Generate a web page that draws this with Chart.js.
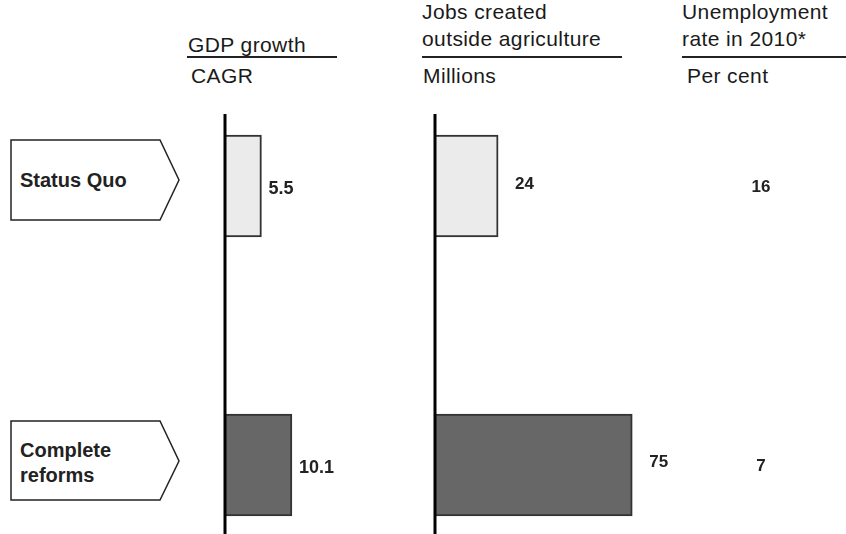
<!DOCTYPE html>
<html>
<head>
<meta charset="utf-8">
<script src="https://cdn.jsdelivr.net/npm/chart.js@4"></script>
<style>
  html, body { margin: 0; padding: 0; background: #fff; }
  body { width: 846px; height: 534px; position: relative; overflow: hidden;
         font-family: "Liberation Sans", Arial, sans-serif; color: #1a1a1a; }
  .hd { position: absolute; font-size: 21px; line-height: 27px; letter-spacing: 0.4px; white-space: nowrap; }
  .rule { position: absolute; height: 0; border-top: 2px solid #222; }
  canvas { position: absolute; }
  svg { position: absolute; left: 0; top: 0; }
</style>
</head>
<body>

<div class="hd" style="left:188px; top:31px;">GDP growth</div>
<div class="rule" style="left:187px; top:56px; width:150px;"></div>
<div class="hd" style="left:191px; top:62px;">CAGR</div>

<div class="hd" style="left:422px; top:-2px;">Jobs created</div>
<div class="hd" style="left:422px; top:25px;">outside agriculture</div>
<div class="rule" style="left:422px; top:56px; width:200px;"></div>
<div class="hd" style="left:423px; top:62px;">Millions</div>

<div class="hd" style="left:682px; top:-2px;">Unemployment</div>
<div class="hd" style="left:682px; top:25px;">rate in 2010*</div>
<div class="rule" style="left:682px; top:56px; width:164px;"></div>
<div class="hd" style="left:687px; top:62px;">Per cent</div>

<svg width="200" height="534">
  <polygon points="11,140 160,140 179,180 160,220 11,220" fill="#fff" stroke="#222" stroke-width="1.5"/>
  <text x="20" y="187" font-family="Liberation Sans, Arial" font-weight="bold" font-size="20" fill="#222">Status Quo</text>
  <polygon points="11,421 160,421 179,461 160,500 11,500" fill="#fff" stroke="#222" stroke-width="1.5"/>
  <text x="20" y="457" font-family="Liberation Sans, Arial" font-weight="bold" font-size="20" fill="#222">Complete</text>
  <text x="20" y="482" font-family="Liberation Sans, Arial" font-weight="bold" font-size="20" fill="#222">reforms</text>
</svg>

<canvas id="chartGdp" width="130" height="420" style="left:210px; top:114px; width:130px; height:420px;"></canvas>
<canvas id="chartJobs" width="426" height="420" style="left:420px; top:114px; width:426px; height:420px;"></canvas>

<script>
// scenarios and values
const scenarios = ['Status Quo', 'Complete reforms'];
const gdpGrowth = [5.5, 10.1];       // CAGR, %
const jobsCreated = [24, 75];        // millions
const unemployment = [16, 7];        // per cent, 2010
const barColours = ['#ebebeb', '#676767'];

// vertical axis line at zero + value labels
const decorPlugin = {
    id: 'decor',
    afterDatasetsDraw(chart, args, opts) {
        const ctx = chart.ctx;
        const xs = chart.scales.x;
        const ys = chart.scales.y;
        const x0 = xs.getPixelForValue(0);
        ctx.save();
        ctx.strokeStyle = '#000';
        ctx.lineWidth = 3;
        ctx.beginPath();
        ctx.moveTo(x0, 0);
        ctx.lineTo(x0, chart.height);
        ctx.stroke();

        ctx.fillStyle = '#222';
        ctx.textBaseline = 'middle';
        ctx.font = 'bold ' + opts.size + 'px "Liberation Sans", Arial, sans-serif';
        const data = chart.data.datasets[0].data;
        data.forEach((v, i) => {
            const y = ys.getPixelForValue(i);
            ctx.textAlign = 'left';
            ctx.fillText(opts.fmt(v), xs.getPixelForValue(v) + opts.gap, y + opts.dy[i]);
        });
        if (opts.extra) {
            ctx.textAlign = 'center';
            opts.extra.forEach((v, i) => {
                ctx.fillText(String(v), chart.chartArea.right + 63, ys.getPixelForValue(i) + 1);
            });
        }
        ctx.restore();
    }
};

function makeChart(id, values, max, pad, labelOpts) {
    return new Chart(document.getElementById(id), {
        type: 'bar',
        data: {
            labels: scenarios,
            datasets: [{
                data: values,
                backgroundColor: barColours,
                borderColor: '#333',
                borderWidth: 2,
                borderSkipped: 'start',
                barThickness: 102,
                clip: false
            }]
        },
        options: {
            indexAxis: 'y',
            responsive: false,
            animation: false,
            events: [],
            layout: { padding: pad },
            scales: {
                x: { display: false, min: 0, max: max },
                y: { display: false, offset: false }
            },
            plugins: {
                legend: { display: false },
                tooltip: { enabled: false },
                decor: labelOpts
            }
        },
        plugins: [decorPlugin]
    });
}

const chartGdp = makeChart('chartGdp', gdpGrowth, 16,
    { left: 15, right: 9, top: 72, bottom: 69 },
    { size: 18, gap: 7, dy: [3, 3], fmt: v => v.toFixed(1) });

const chartJobs = makeChart('chartJobs', jobsCreated, 100,
    { left: 15, right: 148, top: 72, bottom: 69 },
    { size: 17, gap: 17, dy: [-2, -3], fmt: v => String(v), extra: unemployment });
</script>
</body>
</html>
